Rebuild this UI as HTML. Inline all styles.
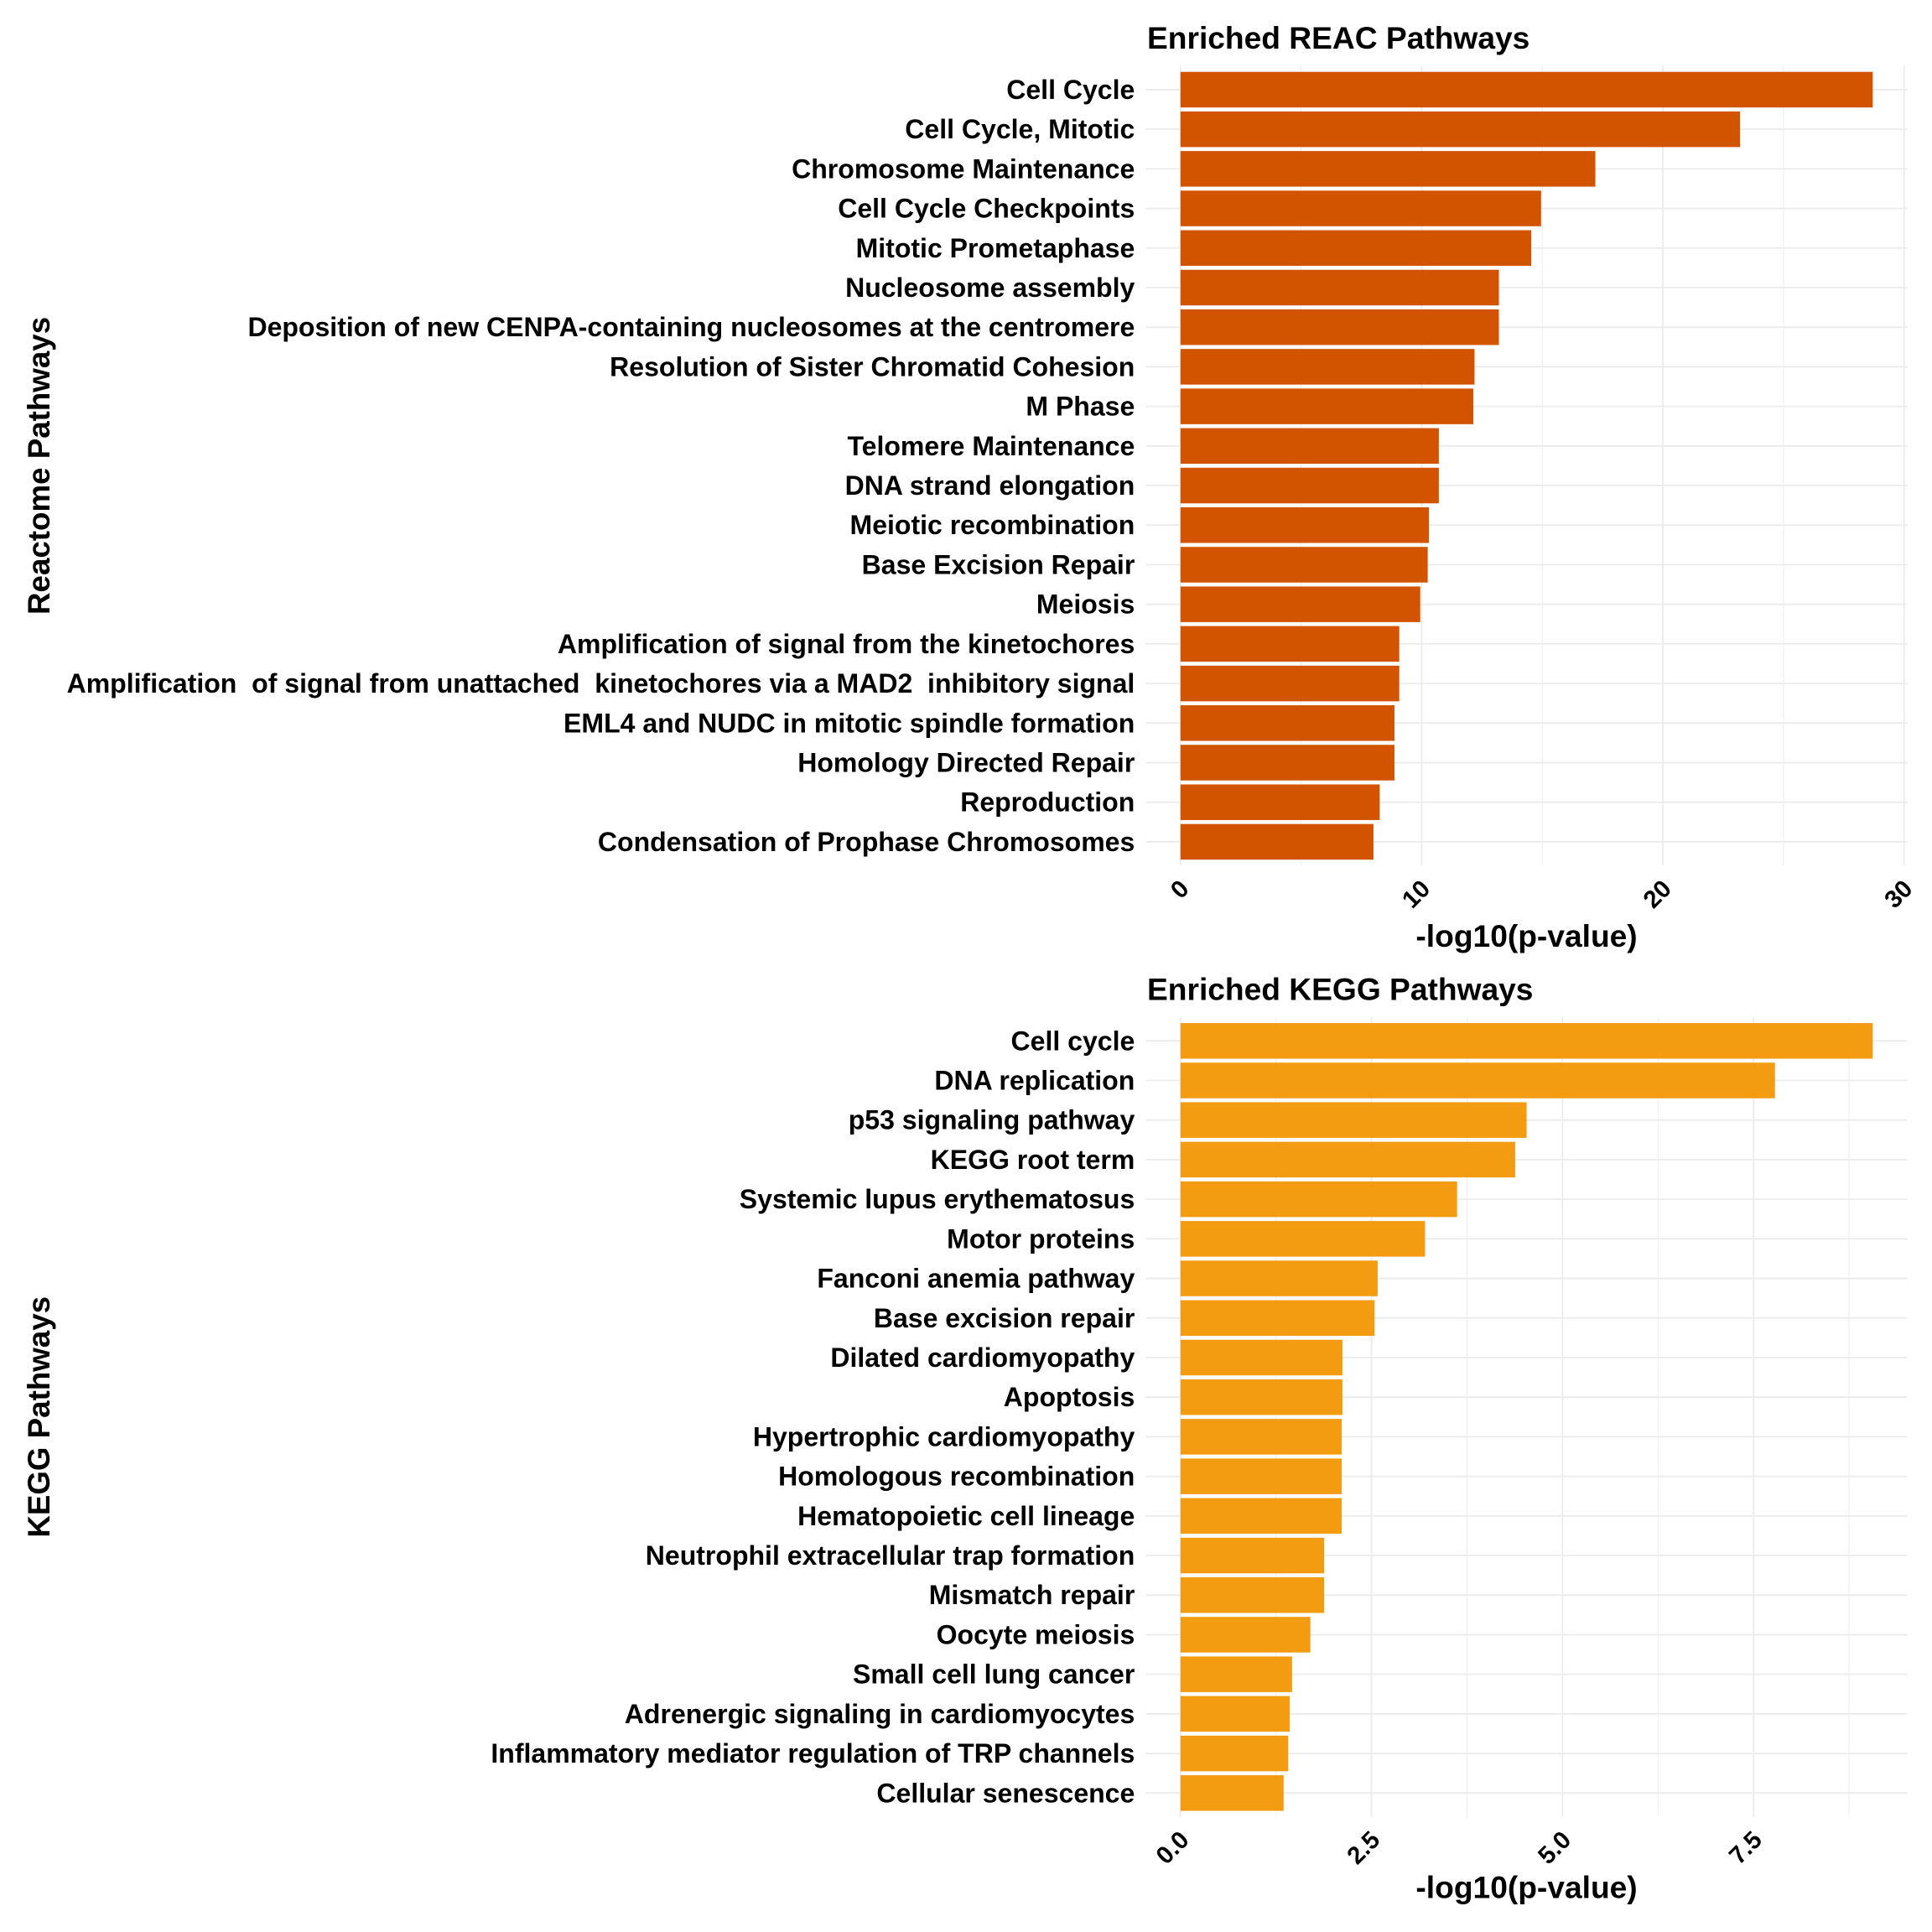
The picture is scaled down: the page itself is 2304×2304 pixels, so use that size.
<!DOCTYPE html>
<html><head><meta charset="utf-8"><style>
html,body{margin:0;padding:0;background:#fff;}
svg{display:block;}
text{font-family:"Liberation Sans",Arial,sans-serif;font-weight:bold;fill:#000;white-space:pre;}
</style></head><body>
<svg id="chart" width="2304" height="2304" viewBox="0 0 1568 1568" xmlns="http://www.w3.org/2000/svg" xml:space="preserve"></svg>
<script>
const reacCategories = ["Cell Cycle","Cell Cycle, Mitotic","Chromosome Maintenance","Cell Cycle Checkpoints","Mitotic Prometaphase","Nucleosome assembly","Deposition of new CENPA-containing nucleosomes at the centromere","Resolution of Sister Chromatid Cohesion","M Phase","Telomere Maintenance","DNA strand elongation","Meiotic recombination","Base Excision Repair","Meiosis","Amplification of signal from the kinetochores","Amplification  of signal from unattached  kinetochores via a MAD2  inhibitory signal","EML4 and NUDC in mitotic spindle formation","Homology Directed Repair","Reproduction","Condensation of Prophase Chromosomes"];
const reacValues = [28.7,23.2,17.2,14.95,14.54,13.2,13.2,12.19,12.14,10.71,10.71,10.3,10.25,9.94,9.07,9.07,8.87,8.87,8.26,8.0];
const reacTicks = [0,10,20,30];
const reacTickLabels = ["0","10","20","30"];
const reacMinor = [5,15,25];
const keggCategories = ["Cell cycle","DNA replication","p53 signaling pathway","KEGG root term","Systemic lupus erythematosus","Motor proteins","Fanconi anemia pathway","Base excision repair","Dilated cardiomyopathy","Apoptosis","Hypertrophic cardiomyopathy","Homologous recombination","Hematopoietic cell lineage","Neutrophil extracellular trap formation","Mismatch repair","Oocyte meiosis","Small cell lung cancer","Adrenergic signaling in cardiomyocytes","Inflammatory mediator regulation of TRP channels","Cellular senescence"];
const keggValues = [9.06,7.78,4.53,4.38,3.62,3.2,2.58,2.54,2.12,2.12,2.11,2.11,2.11,1.88,1.88,1.70,1.46,1.43,1.41,1.35];
const keggTicks = [0,2.5,5,7.5];
const keggTickLabels = ["0.0","2.5","5.0","7.5"];
const keggMinor = [1.25,3.75,6.25,8.75];

const NS="http://www.w3.org/2000/svg";
const svg=document.getElementById('chart');
function mk(tag,attrs,parent){const e=document.createElementNS(NS,tag);for(const k in attrs)e.setAttribute(k,attrs[k]);(parent||svg).appendChild(e);return e;}

function panel(o){
  const L=930,R=1548,T=o.top,B=o.top+649;
  const maxV=Math.max(...o.values);
  const lo=-0.05*maxV, hi=maxV*1.05;
  const x=v=>L+(v-lo)/(hi-lo)*(R-L);
  const n=o.cats.length, band=(B-T)/(n-1+1.2);
  const y=i=>T+band*(0.6+i);
  const g=mk('g',{});
  
  
  o.minor.forEach(v=>{const l=mk('line',{x1:x(v),x2:x(v),y1:T,y2:B,stroke:'#ebebeb','stroke-width':0.6},g);
    });
  o.ticks.forEach(v=>{const l=mk('line',{x1:x(v),x2:x(v),y1:T,y2:B,stroke:'#ebebeb','stroke-width':1.2},g);
    });
  o.cats.forEach((c,i)=>{const l=mk('line',{x1:L,x2:R,y1:y(i),y2:y(i),stroke:'#ebebeb','stroke-width':1.2},g);
    });
  o.values.forEach((v,i)=>{
    const r=mk('rect',{x:x(0),y:y(i)-band*0.45,width:x(v)-x(0),height:band*0.9,fill:o.color},g);
    
    
    const t=mk('text',{x:921,y:y(i)+7.5,'text-anchor':'end','font-size':21.8},g);
    t.textContent=o.cats[i];
    
    
  });
  o.ticks.forEach((v,i)=>{
    const t=mk('text',{transform:`translate(${x(v)+8},${B+20}) rotate(-45)`,'text-anchor':'end','font-size':20},g);
    t.textContent=o.tickLabels[i];
    
    
  });
  const ti=mk('text',{x:931,y:T-14,'font-size':25.3},g);ti.textContent=o.title;
  
  const xt=mk('text',{x:1239,y:B+66,'text-anchor':'middle','font-size':25.3},g);xt.textContent='-log10(p-value)';
  
  const yt=mk('text',{transform:`translate(40,${(T+B)/2}) rotate(-90)`,'text-anchor':'middle','font-size':25},g);yt.textContent=o.ytitle;
  
}
panel({name:'reac',top:53.5,cats:reacCategories,values:reacValues,ticks:reacTicks,tickLabels:reacTickLabels,minor:reacMinor,color:'#d35400',title:'Enriched REAC Pathways',ytitle:'Reactome Pathways'});
panel({name:'kegg',top:825.5,cats:keggCategories,values:keggValues,ticks:keggTicks,tickLabels:keggTickLabels,minor:keggMinor,color:'#f39c12',title:'Enriched KEGG Pathways',ytitle:'KEGG Pathways'});
</script>
</body></html>
